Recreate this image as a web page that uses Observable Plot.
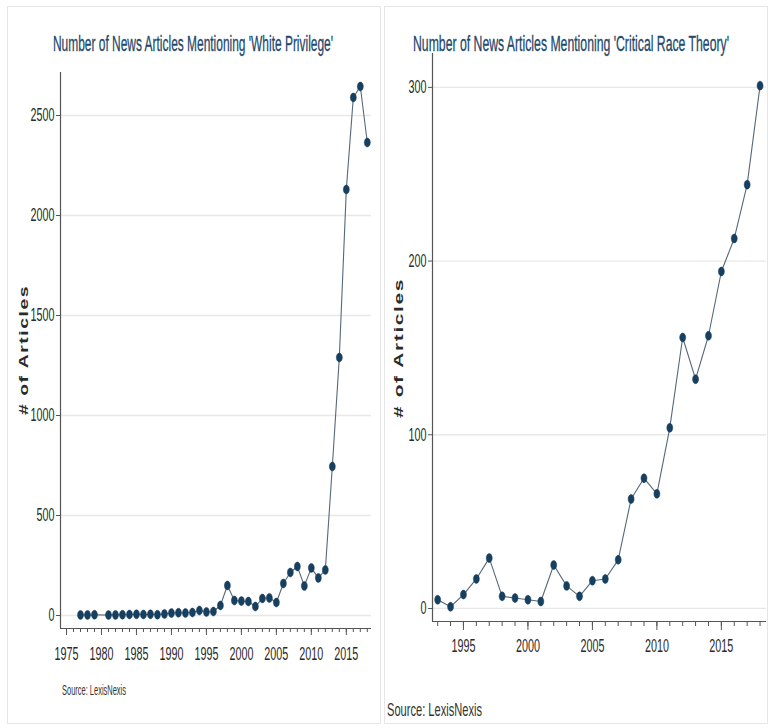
<!DOCTYPE html>
<html>
<head>
<meta charset="utf-8">
<script src="https://cdn.jsdelivr.net/npm/d3@7"></script>
<script src="https://cdn.jsdelivr.net/npm/@observablehq/plot@0.6"></script>
<style>
  html, body { margin: 0; padding: 0; background: #fff; }
  body { width: 768px; height: 728px; position: relative; overflow: hidden;
         font-family: "Liberation Sans", Arial, sans-serif; }
  .panel { position: absolute; top: 0; width: 384px; height: 728px; }
  .frame { position: absolute; border: 1px solid #e6e6e6; }
  .title { position: absolute; color: #23486b; font-size: 22px; white-space: nowrap;
           transform-origin: 0 0; line-height: 1; -webkit-text-stroke: 0.3px #23486b; }
  .ytitle { position: absolute; font-weight: bold; color: #2a2a2a; font-size: 13px; letter-spacing: 1px;
            white-space: nowrap; line-height: 1; transform-origin: 0 0; }
  .source { position: absolute; color: #333; white-space: nowrap; line-height: 1; transform-origin: 0 0; }
  svg { position: absolute; left: 0; top: 0; }
</style>
</head>
<body>
<div class="panel" id="left" style="left:0"></div>
<div class="panel" id="right" style="left:384px"></div>
<script>
// ---- Data: 'White Privilege'
const wpYears = [1977,1978,1979,1981,1982,1983,1984,1985,1986,1987,1988,1989,1990,1991,1992,1993,1994,1995,1996,1997,1998,1999,2000,2001,2002,2003,2004,2005,2006,2007,2008,2009,2010,2011,2012,2013,2014,2015,2016,2017,2018];
const wpValues = [3,3,4,2,3,4,5,6,5,6,4,8,12,14,13,15,25,18,20,50,150,75,72,70,45,85,88,65,160,215,245,148,238,188,228,745,1290,2130,2590,2645,2365];
const wpYTicks = [0,500,1000,1500,2000,2500];
const wpXTicks = [1975,1980,1985,1990,1995,2000,2005,2010,2015];

// ---- Data: 'Critical Race Theory'
const crtYears = [1993,1994,1995,1996,1997,1998,1999,2000,2001,2002,2003,2004,2005,2006,2007,2008,2009,2010,2011,2012,2013,2014,2015,2016,2017,2018];
const crtValues = [5,1,8,17,29,7,6,5,4,25,13,7,16,17,28,63,75,66,104,156,132,157,194,213,244,301];
const crtYTicks = [0,100,200,300];
const crtXTicks = [1995,2000,2005,2010,2015];

const titles = ["Number of News Articles Mentioning 'White Privilege'", "Number of News Articles Mentioning 'Critical Race Theory'"];
const yLabel = "# of Articles";
const sourceText = "Source: LexisNexis";

const navy = "#173f5f";
const lineCol = "#56687a";

// ellipse marker (taller than wide)
const ellipse = {
  draw(ctx, size) {
    const r = Math.sqrt(size / Math.PI);
    const rx = r * 0.75, ry = r * 1.12, k = 0.5523;
    ctx.moveTo(rx, 0);
    ctx.bezierCurveTo(rx, ry * k, rx * k, ry, 0, ry);
    ctx.bezierCurveTo(-rx * k, ry, -rx, ry * k, -rx, 0);
    ctx.bezierCurveTo(-rx, -ry * k, -rx * k, -ry, 0, -ry);
    ctx.bezierCurveTo(rx * k, -ry, rx, -ry * k, rx, 0);
    ctx.closePath();
  }
};

function panel(cfg) {
  const data = cfg.years.map((y, i) => ({year: y, value: cfg.values[i]}));
  const minorTicks = d3.range(Math.ceil(cfg.xDomain[0]), Math.floor(cfg.xDomain[1]) + 1);
  const svg = Plot.plot({
    width: 384, height: 728,
    marginLeft: cfg.ml, marginRight: cfg.mr, marginTop: cfg.mt, marginBottom: cfg.mb,
    style: "font-family: 'Liberation Sans', Arial, sans-serif; font-size: 18px; color: #333; background: transparent;",
    x: {domain: cfg.xDomain, axis: null},
    y: {domain: cfg.yDomain, axis: null},
    marks: [
      Plot.ruleY(cfg.yTicks, {stroke: "#e8e8e8", strokeWidth: 1.3, x1: cfg.xDomain[0], x2: cfg.xDomain[1]}),
      Plot.axisX(minorTicks, {tickSize: cfg.minorTick, tickFormat: () => "", stroke: "#555", anchor: "bottom", label: null}),
      Plot.axisX(cfg.xTicks, {tickSize: cfg.majorTick, tickPadding: cfg.xPad, tickFormat: d => String(d), stroke: "#555", fill: "#2a2a2a", anchor: "bottom", fontSize: 18, label: null}),
      Plot.axisY(cfg.yTicks, {tickSize: 4, tickPadding: 2, tickFormat: d => String(d), stroke: "#555", fill: "#2a2a2a", anchor: "left", fontSize: 18, label: null}),
      Plot.ruleX([cfg.xDomain[0]], {stroke: "#555", strokeWidth: 1.2}),
      Plot.ruleY([cfg.yDomain[0]], {stroke: "#555", strokeWidth: 1.2}),
      Plot.line(data, {x: "year", y: "value", stroke: lineCol, strokeWidth: 1.1}),
      Plot.dot(data, {x: "year", y: "value", fill: navy, stroke: navy, strokeWidth: 0.5, r: 4, symbol: ellipse})
    ]
  });
  // condense tick labels horizontally (narrow typeface look)
  svg.querySelectorAll("text").forEach(t => {
    const tr = t.getAttribute("transform") || "";
    t.setAttribute("transform", tr + " scale(0.6,1)");
  });
  return svg;
}

function fitText(el, targetWidth, left, top) {
  el.style.left = left + "px";
  el.style.top = top + "px";
  const w = el.getBoundingClientRect().width;
  el.style.transform = `scaleX(${targetWidth / w})`;
}

function build(id, cfg) {
  const el = document.getElementById(id);
  const fr = document.createElement("div");
  fr.className = "frame";
  Object.assign(fr.style, cfg.frame);
  el.appendChild(fr);
  el.appendChild(panel(cfg));

  const t = document.createElement("div");
  t.className = "title"; t.textContent = cfg.title;
  el.appendChild(t);
  fitText(t, cfg.titleW, cfg.titleX, cfg.titleY);

  const yt = document.createElement("div");
  yt.className = "ytitle"; yt.textContent = yLabel;
  el.appendChild(yt);
  const w = yt.getBoundingClientRect().width;
  yt.style.left = cfg.ytX + "px";
  yt.style.top = cfg.ytBottom + "px";
  yt.style.transform = `rotate(-90deg) scaleX(${cfg.ytLen / w})`;

  const s = document.createElement("div");
  s.className = "source"; s.textContent = sourceText;
  s.style.fontSize = cfg.srcSize + "px";
  el.appendChild(s);
  fitText(s, cfg.srcW, cfg.srcX, cfg.srcY);
}

build("left", {
  years: wpYears, values: wpValues, yTicks: wpYTicks, xTicks: wpXTicks,
  xDomain: [1974.14, 2018.6], yDomain: [-65, 2715],
  ml: 60, mr: 13, mt: 72, mb: 100, xPad: 12, majorTick: 7, minorTick: 4,
  title: titles[0], titleW: 280, titleX: 53, titleY: 33,
  ytX: 17, ytBottom: 415, ytLen: 130,
  frame: {left: "7px", top: "6px", width: "372px", height: "716px"},
  srcSize: 15, srcW: 64, srcX: 62, srcY: 682
});

build("right", {
  years: crtYears, values: crtValues, yTicks: crtYTicks, xTicks: crtXTicks,
  xDomain: [1992.6, 2018.5], yDomain: [-7.5, 319.5],
  ml: 48, mr: 2, mt: 53, mb: 107, xPad: 9, majorTick: 9, minorTick: 5,
  title: titles[1], titleW: 316, titleX: 29, titleY: 33,
  ytX: 8, ytBottom: 418, ytLen: 140,
  frame: {left: "0px", top: "6px", width: "382px", height: "716px"},
  srcSize: 19, srcW: 95, srcX: 3, srcY: 700
});
</script>
</body>
</html>
